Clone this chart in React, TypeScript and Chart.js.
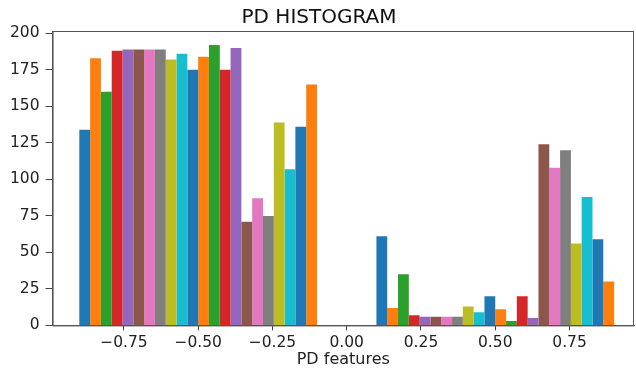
import React, { useEffect, useRef } from "react";
import { Chart, registerables } from "chart.js";

Chart.register(...registerables);

const binCenters = [-0.5, 0.5];
const seriesNames = Array.from({ length: 22 }, (_, i) => `PD ${i + 1}`);
const negativeBinCounts = [134, 183, 160, 188, 189, 189, 189, 189, 182, 186, 175, 184, 192, 175, 190, 71, 87, 75, 139, 107, 136, 165];
const positiveBinCounts = [61, 12, 35, 7, 6, 6, 6, 6, 13, 9, 20, 11, 3, 20, 5, 124, 108, 120, 56, 88, 59, 30];
const palette = ["#1f77b4", "#ff7f0e", "#2ca02c", "#d62728", "#9467bd", "#8c564b", "#e377c2", "#7f7f7f", "#bcbd22", "#17becf"];
const xTickStep = 0.25;
const yTickStep = 25;
const xRange = [-0.99, 0.967];
const yRange = [0, 201.6];

const FONT = "'DejaVu Sans', sans-serif";

const framePlugin = {
  id: "frame",
  afterDraw(chart: any) {
    const { ctx, chartArea } = chart;
    ctx.save();
    ctx.strokeStyle = "#555";
    ctx.lineWidth = 1;
    ctx.strokeRect(chartArea.left + 0.5, chartArea.top + 0.5, chartArea.right - chartArea.left - 1, chartArea.bottom - chartArea.top);
    ctx.restore();
  },
};

export default function App() {
  const ref = useRef<HTMLCanvasElement>(null);
  useEffect(() => {
    document.body.style.margin = "0";
    const datasets = seriesNames.map((name, i) => ({
      label: name,
      data: binCenters.map((c, b) => ({ x: c, y: b === 0 ? negativeBinCounts[i] : positiveBinCounts[i] })),
      backgroundColor: palette[i % palette.length],
      borderWidth: 0,
      categoryPercentage: 0.8,
      barPercentage: 1.0,
      xAxisID: "x",
    }));
    const chart = new Chart(ref.current!, {
      type: "bar",
      data: { datasets },
      options: {
        animation: false,
        responsive: false,
        maintainAspectRatio: false,
        layout: { padding: { left: 4, right: 2, top: 0, bottom: 1 } },
        plugins: {
          legend: { display: false },
          tooltip: { enabled: false },
          title: {
            display: true,
            text: "PD HISTOGRAM",
            color: "#111",
            font: { family: FONT, size: 20, weight: "normal" },
            padding: { top: 6, bottom: 1 },
          },
        },
        scales: {
          x: {
            type: "linear",
            display: false,
            offset: false,
            min: xRange[0],
            max: xRange[1],
            ticks: { stepSize: 1, includeBounds: false },
          },
          xt: {
            type: "linear",
            position: "bottom",
            offset: false,
            min: xRange[0],
            max: xRange[1],
            grid: { offset: false, drawOnChartArea: false, drawTicks: true, tickLength: 5, color: "#444" },
            border: { display: true, color: "#555" },
            ticks: {
              stepSize: xTickStep,
              includeBounds: false,
              padding: 3,
              color: "#222",
              font: { family: FONT, size: 15.5 },
              callback: (v: any) => {
                const n = Number(v);
                const s = Math.abs(n).toFixed(2);
                return n < -1e-9 ? "\u2212" + s : s;
              },
            },
            title: {
              display: true,
              text: "PD features",
              color: "#222",
              font: { family: FONT, size: 16, lineHeight: 1.125 },
              padding: { top: -4, bottom: 0 },
            },
          },
          y: {
            type: "linear",
            min: yRange[0],
            max: yRange[1],
            grid: { drawOnChartArea: false, drawTicks: true, tickLength: 7, color: "#444" },
            border: { display: true, color: "#555" },
            ticks: {
              stepSize: yTickStep,
              includeBounds: false,
              padding: 6,
              color: "#222",
              font: { family: FONT, size: 15.5 },
            },
          },
        },
      },
      plugins: [framePlugin],
    } as any);
    return () => chart.destroy();
  }, []);
  return (
    <div style={{ width: 636, height: 370 }}>
      <canvas ref={ref} width={636} height={370} style={{ width: 636, height: 370 }} />
    </div>
  );
}
